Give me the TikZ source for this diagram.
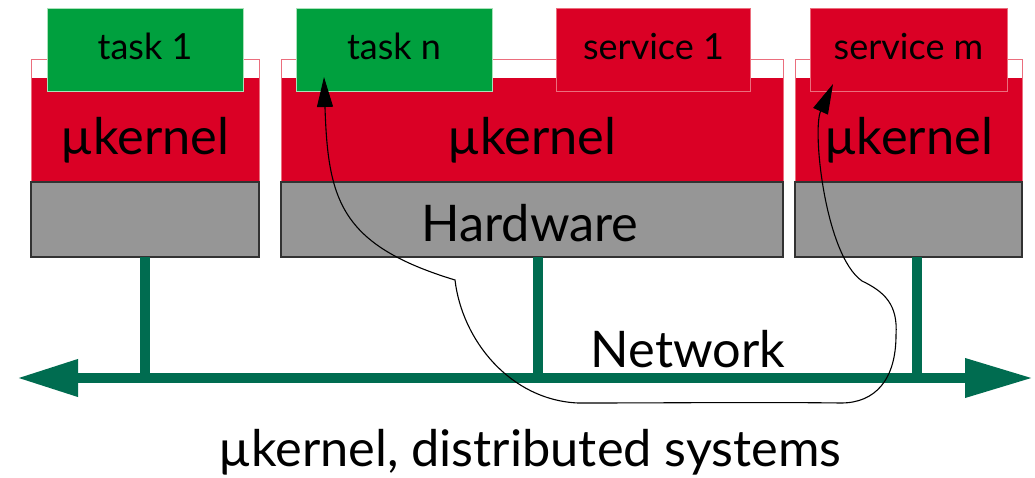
\documentclass[tikz,border=0pt]{standalone}
\usepackage{fontspec}
\setmainfont{Lato}
\usetikzlibrary{arrows.meta,calc}
\definecolor{kred}{RGB}{218,0,37}
\definecolor{kpink}{RGB}{235,110,125}
\definecolor{tgreen}{RGB}{0,160,62}
\definecolor{tgreenl}{RGB}{170,225,185}
\definecolor{hgray}{RGB}{150,150,150}
\definecolor{hdark}{RGB}{50,50,50}
\definecolor{ngreen}{RGB}{0,108,80}
\begin{document}
\begin{tikzpicture}[x=1pt,y=-1pt,
  every node/.style={inner sep=0pt,outer sep=0pt},
  kout/.style={draw=kpink,line width=1pt,fill=white,minimum height=122pt},
  kfill/.style={fill=kred,minimum height=104pt},
  hw/.style={draw=hdark,line width=1.3pt,fill=hgray,minimum height=75pt},
  taskbox/.style={draw=tgreenl,line width=0.8pt,fill=tgreen,minimum width=196pt,minimum height=83pt},
  servbox/.style={draw=kpink,line width=0.8pt,fill=kred,minimum height=83pt},
  small/.style={font=\fontsize{36}{43}\selectfont,anchor=base},
  big/.style={font=\fontsize{50.5}{60}\selectfont,anchor=base},
  net/.style={draw=ngreen,line width=10pt},
  flow/.style={draw=black,line width=1.1pt,{Triangle[length=30pt,width=16pt]}-{Triangle[length=30pt,width=16pt]}}
]
\useasboundingbox[fill=white] (0,0) rectangle (1035,478);

% machine 1
\node[kout,minimum width=228pt] (k1o) at (145,121) {};
\node[kfill,minimum width=227pt] (k1) at (145,130) {};
\node[hw,minimum width=228pt] (h1) at (145,219.5) {};
\node[taskbox] (t1) at (145,49.5) {};
% machine 2
\node[kout,minimum width=502pt] (k2o) at (532,121) {};
\node[kfill,minimum width=501pt] (k2) at (532,130) {};
\node[hw,minimum width=502pt] (h2) at (532,219.5) {};
\node[taskbox] (tn) at (394,49.5) {};
\node[servbox,minimum width=194pt] (s1) at (653.5,49.5) {};
% machine 3
\node[kout,minimum width=227pt] (k3o) at (908.5,121) {};
\node[kfill,minimum width=226pt] (k3) at (908.5,130) {};
\node[hw,minimum width=227pt] (h3) at (908.5,219.5) {};
\node[servbox,minimum width=197pt] (sm) at (908.5,49.5) {};

% labels
\node[small] (lt1) at (145,60) {task 1};
\node[small] (ltn) at (394,60) {task n};
\node[small] (ls1) at (653.5,60) {service 1};
\node[small] (lsm) at (908.5,60) {service m};
\node[big] (lk1) at (145,155) {µkernel};
\node[big] (lk2) at (532,155) {µkernel};
\node[big] (lk3) at (908.5,155) {µkernel};
\node[big] (lhw) at (530,242) {Hardware};

% network
\coordinate (netL) at (17,378);
\coordinate (netR) at (1033,378);
\draw[net] (h1.south) -- (h1.south |- netL);
\draw[net] ([xshift=6pt]h2.south) -- ([xshift=6pt]h2.south |- netL);
\draw[net] ([xshift=8.5pt]h3.south) -- ([xshift=8.5pt]h3.south |- netL);
\draw[net,{Triangle[length=61pt,width=35pt]}-{Triangle[length=68pt,width=37pt]}] (netL) -- (netR);
\node[big] (lnet) at (688,367) {Network};
\node[big] (cap) at (530,466) {µkernel, distributed systems};

% message path
\coordinate (tip1) at ($(tn.south west)+(28,-14)$);
\coordinate (tip2) at ($(sm.south west)+(23,-7)$);
\draw[flow] (tip1) .. controls (328,200) and (340,245) .. (455,280)
  .. controls (462,340) and (510,400) .. (578,403)
  .. controls (670,403) and (760,402) .. (841,403)
  .. controls (875,403) and (896,380) .. (896,335)
  .. controls (898,305) and (885,292) .. (862,281)
  .. controls (825,255) and (812,130) .. (tip2);
\end{tikzpicture}
\end{document}
